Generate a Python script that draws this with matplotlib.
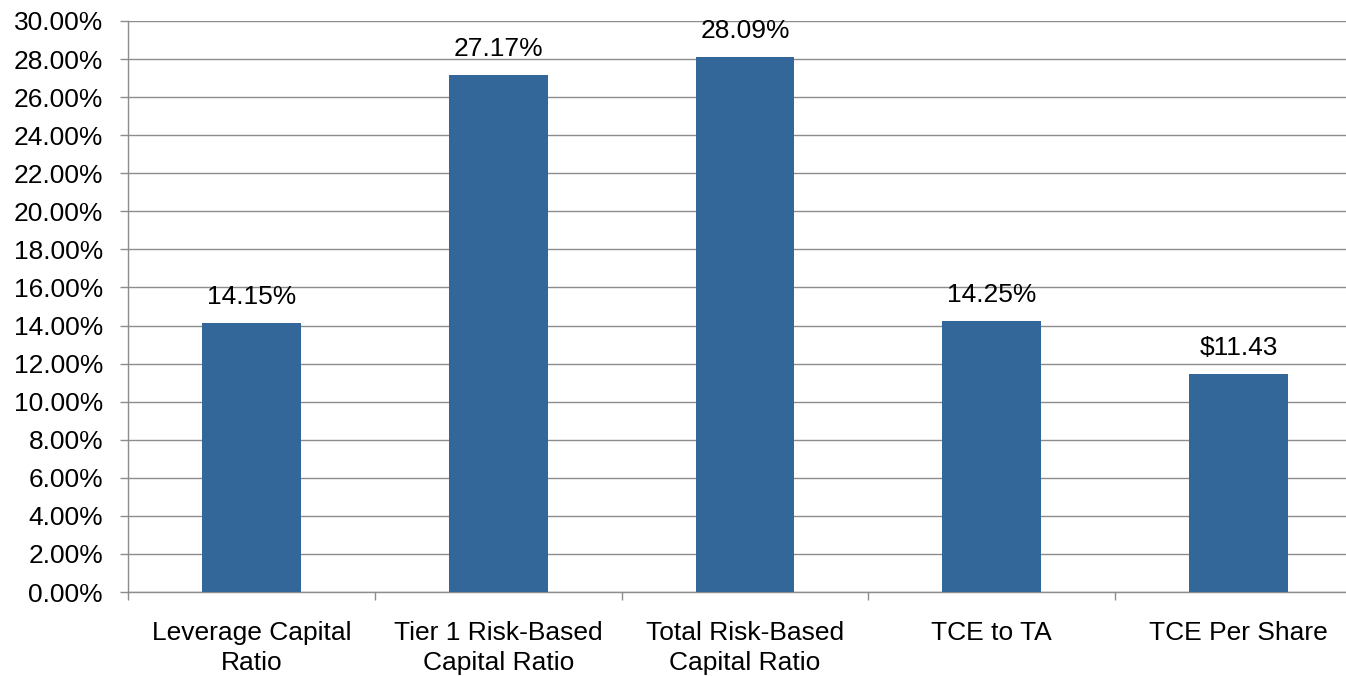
import matplotlib
matplotlib.use("Agg")
import matplotlib.pyplot as plt
from matplotlib.ticker import FuncFormatter, MultipleLocator, FixedLocator
import numpy as np

categories = ["Leverage Capital\nRatio", "Tier 1 Risk-Based\nCapital Ratio",
              "Total Risk-Based\nCapital Ratio", "TCE to TA", "TCE Per Share"]
values = [14.15, 27.17, 28.09, 14.25, 11.43]
value_labels = ["14.15%", "27.17%", "28.09%", "14.25%", "$11.43"]

plt.rcParams['font.family'] = ['Liberation Sans', 'DejaVu Sans']
FS = 19
bar_color = "#336699"
grid_color = "#8c8c8c"

fig = plt.figure(figsize=(13.46, 6.76), dpi=100)
ax = fig.add_axes([128 / 1346, 84 / 676, (5 * 246.8) / 1346, 571 / 676])

x = np.arange(len(categories))
ax.bar(x, values, width=0.4, color=bar_color, zorder=3)

for xi, v, lab in zip(x, values, value_labels):
    ax.annotate(lab, (xi, v), xytext=(0, 13.7), textcoords="offset points",
                ha="center", va="baseline", fontsize=FS, color="black")

ax.set_xlim(-0.5, len(categories) - 0.5)
ax.set_ylim(0, 30)
ax.yaxis.set_major_locator(MultipleLocator(2))
ax.yaxis.set_major_formatter(FuncFormatter(lambda v, _: f"{v:.2f}%"))
ax.grid(axis="y", color=grid_color, linewidth=1.0, zorder=0)

ax.xaxis.set_major_locator(FixedLocator(x))
ax.set_xticklabels(categories, fontsize=FS, linespacing=1.3)
ax.xaxis.set_minor_locator(FixedLocator(np.arange(-0.5, len(categories), 1.0)))
ax.tick_params(axis="x", which="major", length=0, pad=21)
ax.tick_params(axis="x", which="minor", length=6, width=1.0, color=grid_color, direction="out")
ax.tick_params(axis="y", length=6, width=1.0, color=grid_color, direction="out",
               labelsize=FS, pad=12)

for side in ("top", "right"):
    ax.spines[side].set_visible(False)
for side in ("left", "bottom"):
    ax.spines[side].set_color(grid_color)
    ax.spines[side].set_linewidth(1.0)
ax.set_axisbelow(True)

fig.savefig("out.png", dpi=100)
